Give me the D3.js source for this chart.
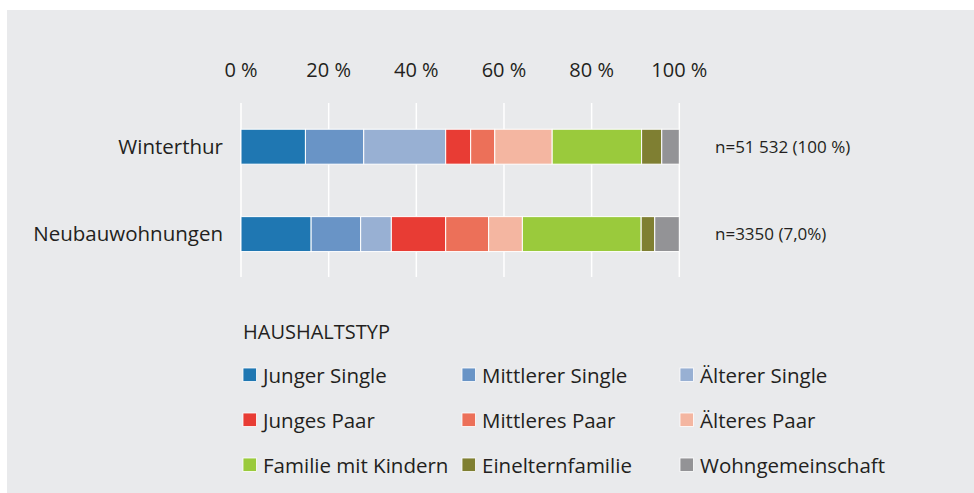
<!DOCTYPE html>
<html><head><meta charset="utf-8">
<script src="https://cdn.jsdelivr.net/npm/d3@7/dist/d3.min.js"></script>
<style>body{margin:0;background:#fff}svg{display:block}text{font-family:"Open Sans",sans-serif;fill:#231f20}</style>
</head><body><svg id="c" width="974" height="493"></svg>
<script>
const categories = ["Winterthur", "Neubauwohnungen"];
const nLabels = ["n=51 532 (100 %)", "n=3350 (7,0%)"];
const typeLabels = ["Junger Single","Mittlerer Single","Älterer Single","Junges Paar","Mittleres Paar","Älteres Paar","Familie mit Kindern","Einelternfamilie","Wohngemeinschaft"];
const winterthur = [14.7, 13.3, 18.7, 5.7, 5.5, 13.1, 20.4, 4.6, 4.0];
const neubau = [16.0, 11.3, 7.0, 12.4, 9.8, 7.7, 27.1, 3.1, 5.6];
const colors = ["#1f77b2","#6994c6","#98b0d3","#e83c34","#ec7059","#f4b6a1","#9aca3c","#7f7f32","#939396"];
const ticks = [0, 20, 40, 60, 80, 100];
const legendTitle = "HAUSHALTSTYP";

const svg = d3.select("#c");
svg.append("rect").attr("x",7).attr("y",10).attr("width",967).attr("height",483).attr("fill","#e9eaec");

const x = d3.scaleLinear().domain([0,100]).range([241,679.3]);
const y = d3.scaleBand().domain(categories).range([103,277.8]).paddingInner(0.6).paddingOuter(0.3);

// gridlines
svg.append("g").selectAll("line").data(ticks).join("line")
  .attr("x1",d=>x(d)).attr("x2",d=>x(d)).attr("y1",103).attr("y2",277)
  .attr("stroke","#fff").attr("stroke-width",1.5);

// tick labels
svg.append("g").selectAll("text").data(ticks).join("text")
  .attr("x",d=>x(d)).attr("y",77).attr("text-anchor","middle")
  .style("font-size","20px").text(d=>d+" %");

const rows = [winterthur, neubau];
rows.forEach((vals,i)=>{
  const cat = categories[i];
  let cum = 0;
  const segs = vals.map((v,j)=>{const s={x0:cum,x1:cum+v,j}; cum+=v; return s;});
  svg.append("g").selectAll("rect").data(segs).join("rect")
    .attr("x",d=>x(d.x0)).attr("width",d=>x(d.x1)-x(d.x0))
    .attr("y",y(cat)).attr("height",y.bandwidth())
    .attr("fill",d=>colors[d.j]).attr("stroke","#fff").attr("stroke-width",1);
  svg.append("text").attr("x",223).attr("y",y(cat)+y.bandwidth()/2).attr("dy","0.36em")
    .attr("text-anchor","end").style("font-size","20.5px").text(cat);
  svg.append("text").attr("x",715).attr("y",y(cat)+y.bandwidth()/2).attr("dy","0.36em")
    .style("font-size","17px").text(nLabels[i]);
});

// legend
svg.append("text").attr("x",243).attr("y",339).style("font-size","20px").text(legendTitle);
const colX = [243, 462, 680];
const lg = svg.append("g").selectAll("g").data(typeLabels).join("g")
  .attr("transform",(d,i)=>`translate(${colX[i%3]},${368+Math.floor(i/3)*45})`);
lg.append("rect").attr("width",13.5).attr("height",13.5).attr("fill",(d,i)=>colors[i])
  .attr("stroke","#fff").attr("stroke-width",0.8);
lg.append("text").attr("x",20).attr("y",14.5).style("font-size","20.5px").text(d=>d);
</script></body></html>
